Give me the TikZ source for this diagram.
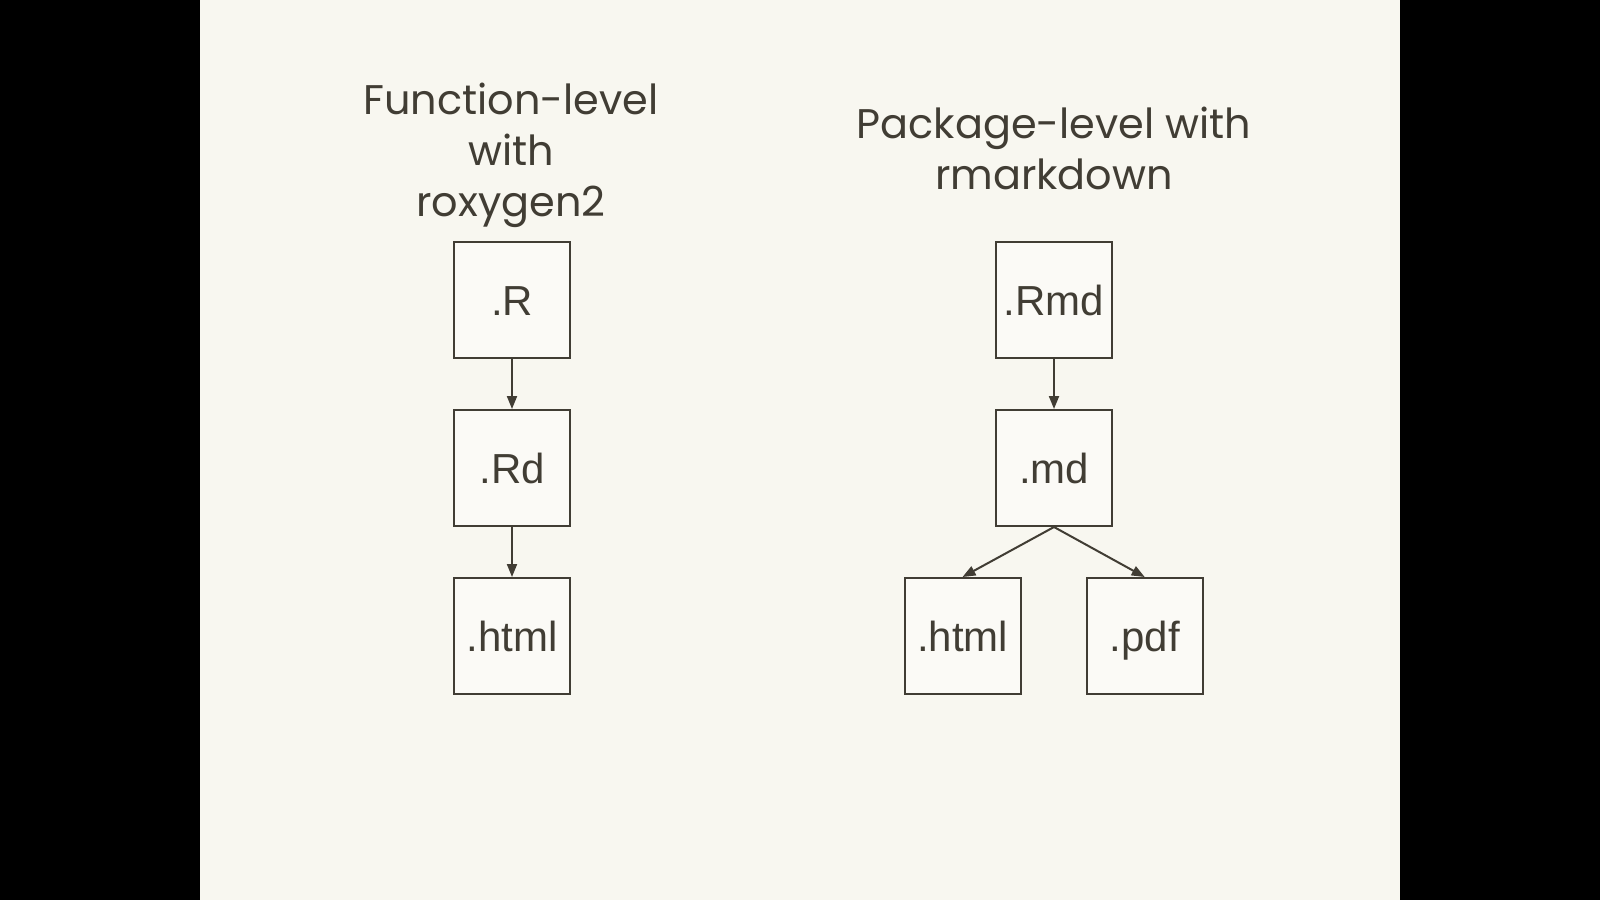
\documentclass[tikz,border=0pt]{standalone}
\usepackage{fontspec}
\setmainfont{Liberation Sans}
\newfontfamily\titlefont{Poppins}
\usetikzlibrary{arrows.meta}
\definecolor{bgc}{HTML}{F8F7F0}
\definecolor{boxfill}{HTML}{FBFAF6}
\definecolor{ink}{HTML}{413D34}
\tikzset{
  filebox/.style={draw=ink, fill=boxfill, line width=1pt, minimum width=58pt, minimum height=58pt, inner sep=0pt, text height=15pt, text depth=0pt, text=ink, font=\fontsize{21}{25}\selectfont},
  flow/.style={draw=ink, line width=1pt, -{Triangle[length=6.5pt,width=5pt]}},
  titletext/.style={text=ink, align=center, inner sep=0pt, font=\titlefont\fontsize{20.7}{25.5}\selectfont},
}
\begin{document}
\begin{tikzpicture}[x=0.5pt, y=-0.5pt]
\useasboundingbox (0,0) rectangle (1600,900);
\fill[black] (0,0) rectangle (1600,900);
\fill[bgc] (200,0) rectangle (1400,900);
\node[titletext, anchor=base] (t1) at (511,216) {Function-level\\with\\roxygen2};
\node[titletext, anchor=base] (t2) at (1054,189) {Package-level with\\rmarkdown};
\node[filebox] (r) at (512,300) {.R};
\node[filebox] (rd) at (512,468) {.Rd};
\node[filebox] (h1) at (512,636) {.html};
\node[filebox] (rmd) at (1054,300) {.Rmd};
\node[filebox] (md) at (1054,468) {.md};
\node[filebox] (h2) at (962.5,636) {.html};
\node[filebox] (pdf) at (1144.7,636) {.pdf};
\draw[flow] (r) -- (rd);
\draw[flow] (rd) -- (h1);
\draw[flow] (rmd) -- (md);
\draw[flow] (md.south) -- (h2.north);
\draw[flow] (md.south) -- (pdf.north);
\end{tikzpicture}
\end{document}
